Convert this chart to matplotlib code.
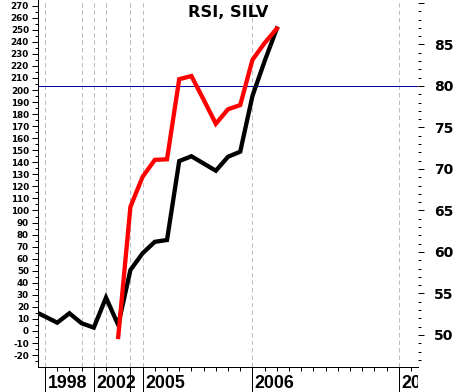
import matplotlib
matplotlib.use("Agg")
import matplotlib.pyplot as plt
from matplotlib.transforms import blended_transform_factory, Bbox, TransformedBbox
import numpy as np

# ---- data (x = period index) ----
black_x = [-1, 0, 1, 2, 3, 4, 5, 6, 7, 8, 9, 10, 11, 12, 13, 14, 15, 16, 17, 18, 19]
black_y = [17, 12, 6.9, 14.7, 6.4, 2.8, 27.7, 5, 50.6, 64.5, 74, 75.5, 141, 145, 139, 133, 144.6, 148.8, 195, 224, 251]
red_x = [6, 7, 8, 9, 10, 11, 12, 13, 14, 15, 16, 17, 18, 19]
red_y = [-5, 103, 128, 142, 142.5, 209, 211.6, 192, 172, 184, 187.5, 225, 239, 251]

grid_x = [0, 3, 4, 5, 7, 8, 17, 29]
sep_x = [0, 4, 7, 8, 17, 29]
year_x = [0, 4, 8, 17, 29]
year_labels = ["1998", "2002", "2005", "2006", "2007"]
rsi_ref = 80
title = "RSI, SILV"

W, H = 456, 392
fig = plt.figure(figsize=(W / 100, H / 100), dpi=100)
L, R, B, T = 38, 418, 367, 0
ax = fig.add_axes([L / W, (H - B) / H, (R - L) / W, (B - T) / H])
ax2 = ax.twinx()

px = 0.72  # points per pixel
ylo, yhi = -29.9, 274.7
rlo, rhi = 46.14, 90.36
ax.set_ylim(ylo, yhi)
ax2.set_ylim(rlo, rhi)
ax.set_xlim(-0.574, 30.57)

for a in (ax, ax2):
    for s in ("top", "right"):
        a.spines[s].set_visible(False)
ax2.spines["left"].set_visible(False)
ax2.spines["bottom"].set_visible(False)
ax.spines["left"].set_linewidth(px)
ax.spines["bottom"].set_linewidth(px)

# dashed vertical grid
for gx in grid_x:
    ax.axvline(gx, color="#bdbdbd", lw=px, dashes=(4.5, 3), zorder=1)

# reference line at RSI 80 (converted to left axis units)
ref_left = ylo + (rsi_ref - rlo) / (rhi - rlo) * (yhi - ylo)
ax.axhline(ref_left, color="#0000a8", lw=1.0 * px, zorder=2)

ax.plot(black_x, black_y, color="black", lw=4.3 * px, zorder=3, solid_joinstyle="miter")
ax.plot(red_x, red_y, color="#ff0000", lw=4.3 * px, zorder=4, solid_joinstyle="miter")

# left axis ticks
ax.set_yticks(np.arange(-20, 271, 10))
ax.set_yticks(np.arange(-25, 275, 5), minor=True)
ax.set_yticklabels([str(v) for v in range(-20, 271, 10)])
ax.tick_params(axis="y", which="major", length=6 * px, width=px, pad=3 * px, labelsize=6.3,
               direction="out")
ax.tick_params(axis="y", which="minor", length=3 * px, width=px, direction="out")
for lab in ax.get_yticklabels():
    lab.set_fontfamily("DejaVu Sans")
    lab.set_fontweight("bold")

# right axis ticks
ax2.set_yticks(np.arange(50, 91, 5))
ax2.set_yticks(np.arange(47, 91, 1), minor=True)
ax2.set_yticklabels(["50", "55", "60", "65", "70", "75", "80", "85", ""])
ax2.tick_params(axis="y", which="major", length=6 * px, width=px, pad=10 * px, labelsize=10,
                direction="out")
ax2.tick_params(axis="y", which="minor", length=3 * px, width=px, direction="out")
for lab in ax2.get_yticklabels():
    lab.set_fontfamily("DejaVu Sans")
    lab.set_fontweight("bold")

# x ticks
ax.set_xticks(np.arange(0, 31, 1))
ax.set_xticklabels([])
ax.tick_params(axis="x", length=4 * px, width=px, direction="out")

trans = blended_transform_factory(ax.transData, ax.transAxes)
for sx in sep_x:
    ax.plot([sx, sx], [0, -(H - B) / (B - T)], transform=trans, color="black",
            lw=px, clip_on=False, zorder=5)

clipbox = TransformedBbox(Bbox([[L / W, 0], [R / W, 1]]), fig.transFigure)
for yx, yl in zip(year_x, year_labels):
    t = ax.text(yx + 2.4 / 12.2, -(388 - B) / (B - T), yl, transform=trans,
                ha="left", va="baseline", fontsize=12.8, fontweight="bold",
                family="Liberation Sans", clip_on=True)
    t.set_clip_box(clipbox)
    t.set_clip_path(None)

fig.text(228 / W, 1 - 5 / H, title, ha="center", va="top", fontsize=11.7,
         fontweight="bold", family="DejaVu Sans")

fig.savefig("out.png", dpi=100)
